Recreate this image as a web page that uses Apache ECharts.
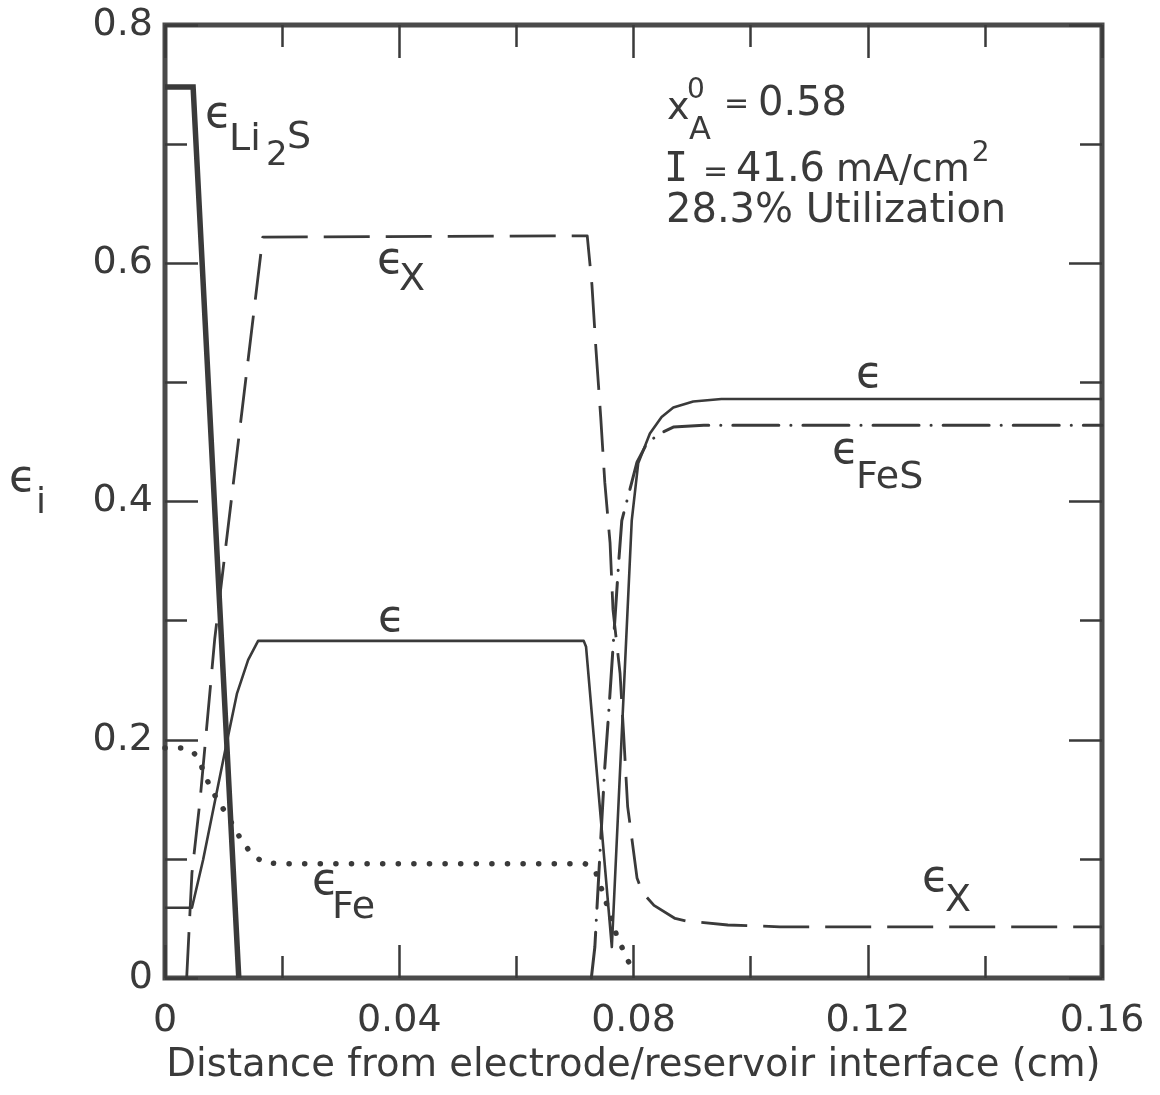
<!DOCTYPE html>
<html>
<head>
<meta charset="utf-8">
<script src="https://cdn.jsdelivr.net/npm/echarts@6/dist/echarts.min.js"></script>
<style>
  html, body { margin: 0; padding: 0; background: #fff; }
  #chart { width: 1160px; height: 1095px; }
</style>
</head>
<body>
<div id="chart"></div>
<script>
// Axis tick labels
const xTickLabels = ['0', '0.04', '0.08', '0.12', '0.16'];
const yTickLabels = ['0', '0.2', '0.4', '0.6', '0.8'];

// Volume fractions vs. distance from the electrode/reservoir interface (cm)
const epsLi2S = [[0, 0.748], [0.0048, 0.748], [0.0126, 0]];

const epsTotal = [
  [0, 0.059], [0.0046, 0.059], [0.0065, 0.099], [0.0088, 0.155], [0.0106, 0.199],
  [0.0123, 0.239], [0.0142, 0.267], [0.0159, 0.283], [0.0715, 0.283], [0.0719, 0.278],
  [0.0763, 0.026], [0.0797, 0.384], [0.0808, 0.432], [0.0828, 0.457], [0.0848, 0.471],
  [0.0868, 0.479], [0.0902, 0.484], [0.095, 0.486], [0.16, 0.486]
];

const epsX = [
  [0.0037, 0.0], [0.0046, 0.088], [0.006, 0.15], [0.0085, 0.285], [0.0167, 0.622],
  [0.0721, 0.623], [0.0729, 0.582], [0.0736, 0.527], [0.0744, 0.471], [0.0751, 0.416],
  [0.076, 0.365], [0.0765, 0.309], [0.0777, 0.256], [0.0783, 0.206], [0.079, 0.144],
  [0.0806, 0.084], [0.0815, 0.072], [0.0835, 0.061], [0.0871, 0.05], [0.0889, 0.048],
  [0.0961, 0.0445], [0.105, 0.043], [0.16, 0.043]
];

const epsFeS = [
  [0.0728, 0.0], [0.0734, 0.026], [0.0743, 0.107], [0.0751, 0.177], [0.0758, 0.225],
  [0.0767, 0.292], [0.0775, 0.351], [0.078, 0.384], [0.0797, 0.416], [0.0806, 0.433],
  [0.0823, 0.449], [0.0845, 0.457], [0.0868, 0.4625], [0.092, 0.464], [0.16, 0.464]
];

const epsFe = [
  [0, 0.193], [0.0029, 0.193], [0.0048, 0.19], [0.006, 0.181], [0.0068, 0.17],
  [0.008, 0.158], [0.009, 0.149], [0.0106, 0.137], [0.013, 0.116], [0.0145, 0.106],
  [0.0167, 0.097], [0.0193, 0.096], [0.0717, 0.096], [0.0734, 0.091], [0.0751, 0.067],
  [0.0771, 0.036], [0.0781, 0.025], [0.079, 0.015], [0.0798, 0.008]
];

const INK = '#3a3a3a';
const FONT = '"DejaVu Sans"';

const chart = echarts.init(document.getElementById('chart'), null, { renderer: 'canvas' });

function tickFmt(labels, step) {
  return v => labels[Math.round(v / step)] ?? '';
}

const commonTick = {
  axisLine: { show: false, onZero: false },
  splitLine: { show: false },
  axisTick: { show: true, inside: true, length: 33, lineStyle: { color: INK, width: 2.5 } },
  minorTick: { show: true, splitNumber: 2, length: 22, lineStyle: { color: INK, width: 2.5 } },
  minorSplitLine: { show: false }
};

// Text pieces of the in-plot annotations (letters plus sub/superscripts)
const ctx = document.createElement('canvas').getContext('2d');
function measure(text, size, family) {
  ctx.font = size + 'px ' + (family || FONT);
  return ctx.measureText(text).width;
}
function piece(text, x, y, size, family) {
  return {
    type: 'text', x: x, y: y, silent: true, z: 10,
    style: {
      text: text, fill: INK, align: 'left', verticalAlign: 'middle',
      font: size + 'px ' + (family || FONT)
    }
  };
}

const cmWidth = measure('mA/cm', 38);
const EPS = 44;

const texts = [
  // eps_Li2S
  piece('ϵ', 205, 116, EPS), piece('Li', 229, 140, 38), piece('2', 266, 156, 34), piece('S', 287, 138, 38),
  // eps_X (upper)
  piece('ϵ', 377, 262, EPS), piece('X', 399, 280, 38),
  // eps (right plateau)
  piece('ϵ', 856, 376, EPS),
  // eps (middle plateau)
  piece('ϵ', 378, 620, EPS),
  // eps_FeS
  piece('ϵ', 832, 452, EPS), piece('FeS', 856, 478, 38),
  // eps_Fe
  piece('ϵ', 312, 883, EPS), piece('Fe', 332, 908, 38),
  // eps_X (lower)
  piece('ϵ', 922, 880, EPS), piece('X', 945, 901, 38),
  // y axis name eps_i
  piece('ϵ', 9, 480, EPS), piece('i', 36, 504, 36),
  // parameters
  piece('x', 667, 109, 38), piece('0', 687, 91, 28), piece('A', 689, 131, 32),
  piece('=', 724, 105, 30), piece('0.58', 758, 105, 40),
  piece('I', 664, 171, 40, '"DejaVu Sans Mono"'), piece('=', 703, 173, 30),
  piece('41.6', 736, 171, 40), piece('mA/cm', 836, 171, 38), piece('2', 836 + cmWidth + 2, 154, 28),
  piece('28.3% Utilization', 666, 212, 40)
];

const option = {
  animation: false,
  backgroundColor: '#fff',
  grid: {
    left: 165, right: 58, top: 25, bottom: 117,
    show: true, borderColor: '#4a4a4a', borderWidth: 5, backgroundColor: 'transparent'
  },
  xAxis: [
    Object.assign({
      type: 'value', min: 0, max: 0.16, interval: 0.04, position: 'bottom',
      name: 'Distance from electrode/reservoir interface (cm)',
      nameLocation: 'middle', nameGap: 68,
      nameTextStyle: { fontFamily: FONT, fontSize: 38.6, color: INK },
      axisLabel: { show: true, margin: 24, fontFamily: FONT, fontSize: 38, color: INK,
                   formatter: tickFmt(xTickLabels, 0.04) }
    }, commonTick),
    Object.assign({
      type: 'value', min: 0, max: 0.16, interval: 0.04, position: 'top',
      axisLabel: { show: false }
    }, commonTick)
  ],
  yAxis: [
    Object.assign({
      type: 'value', min: 0, max: 0.8, interval: 0.2, position: 'left',
      axisLabel: { show: true, margin: 12, fontFamily: FONT, fontSize: 38, color: INK,
                   formatter: tickFmt(yTickLabels, 0.2) }
    }, commonTick),
    Object.assign({
      type: 'value', min: 0, max: 0.8, interval: 0.2, position: 'right',
      axisLabel: { show: false }
    }, commonTick)
  ],
  series: [
    {
      name: 'Li2S', type: 'line', data: epsLi2S, showSymbol: false, silent: true,
      lineStyle: { color: INK, width: 5.5, join: 'miter' }, z: 3
    },
    {
      name: 'eps', type: 'line', data: epsTotal, showSymbol: false, silent: true,
      lineStyle: { color: INK, width: 2.6, join: 'round' }, z: 3
    },
    {
      name: 'X', type: 'line', data: epsX, showSymbol: false, silent: true,
      lineStyle: { color: INK, width: 2.8, type: [46, 16], cap: 'butt', join: 'round' }, z: 3
    },
    {
      name: 'FeS', type: 'line', data: epsFeS, showSymbol: false, silent: true,
      lineStyle: { color: INK, width: 3, type: [46, 12, 0.1, 12], cap: 'round', join: 'round' }, z: 3
    },
    {
      name: 'Fe', type: 'line', data: epsFe, showSymbol: false, silent: true,
      lineStyle: { color: INK, width: 5.5, type: [0.1, 15.5], cap: 'round', join: 'round' }, z: 3
    }
  ],
  graphic: texts
};

chart.setOption(option);
</script>
</body>
</html>
